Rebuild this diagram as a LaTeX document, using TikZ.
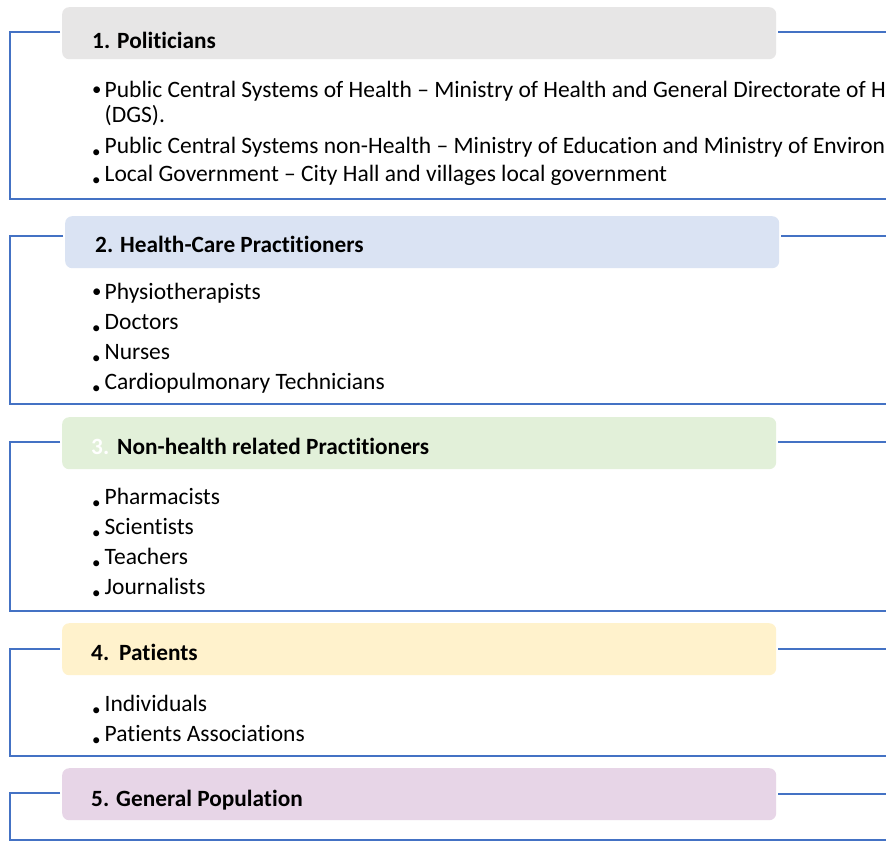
\documentclass[tikz,border=0pt]{standalone}
\usepackage{fontspec}
\usepackage{graphicx}
\setmainfont{Carlito}[Ligatures=NoCommon]
\definecolor{lineblue}{HTML}{4472C4}
\definecolor{cgray}{HTML}{E7E6E6}
\definecolor{cblue}{HTML}{DAE3F3}
\definecolor{cgreen}{HTML}{E2F0D9}
\definecolor{cyellow}{HTML}{FFF2CC}
\definecolor{cpurple}{HTML}{E7D5E7}
\newcommand{\bigbul}{\makebox[13.5pt][l]{\hspace{1pt}\raisebox{0.15ex}{\scalebox{0.8}{•}}}}
\newcommand{\smallbul}{\makebox[13.5pt][l]{\hspace{1pt}\raisebox{-0.4ex}{\scalebox{0.72}{•}}}}
\begin{document}
\begin{tikzpicture}[x=1pt,y=-1pt,
  conn/.style={draw=lineblue,line width=1.8pt},
  hbox/.style={rounded corners=7pt,minimum height=52pt,minimum width=714pt,inner sep=0pt,anchor=north west},
  htext/.style={anchor=base west,inner sep=0pt,font=\fontsize{23.3}{27}\selectfont\bfseries},
  item/.style={anchor=base west,inner sep=0pt,font=\fontsize{23.5}{27}\selectfont}]
\useasboundingbox[fill=white] (0,0) rectangle (886,841);

% ---------- Section 1 ----------
\node[hbox,fill=cgray] (h1) at (62,7) {};
\node[htext] (t1) at (92,48) {1. Politicians};
\node[item] (i11) at (91,97) {\bigbul Public Central Systems of Health – Ministry of Health and General Directorate of H};
\node[item] (i12) at (104.5,122) {(DGS).};
\node[item] (i13) at (91,153) {\smallbul Public Central Systems non-Health – Ministry of Education and Ministry of Environ};
\node[item] (i14) at (91,181) {\smallbul Local Government – City Hall and villages local government};
\coordinate (l1) at (60,32); \coordinate (c1) at (10,32); \coordinate (b1) at (10,199); \coordinate (e1) at (890,199);
\coordinate (r1) at (778,32); \coordinate (s1) at (890,32);
\draw[conn] (l1) -- (c1) -- (b1) -- (e1);
\draw[conn] (r1) -- (s1);

% ---------- Section 2 ----------
\node[hbox,fill=cblue] (h2) at (65,216) {};
\node[htext] (t2) at (95,252) {2. Health-Care Practitioners};
\node[item] (i21) at (91,299) {\bigbul Physiotherapists};
\node[item] (i22) at (91,329) {\smallbul Doctors};
\node[item] (i23) at (91,359) {\smallbul Nurses};
\node[item] (i24) at (91,389) {\smallbul Cardiopulmonary Technicians};
\coordinate (l2) at (63,236); \coordinate (c2) at (10,236); \coordinate (b2) at (10,404); \coordinate (e2) at (890,404);
\coordinate (r2) at (781,236); \coordinate (s2) at (890,236);
\draw[conn] (l2) -- (c2) -- (b2) -- (e2);
\draw[conn] (r2) -- (s2);

% ---------- Section 3 ----------
\node[hbox,fill=cgreen] (h3) at (62,417) {};
\node[htext] (t3) at (91,454) {\textcolor{white}{3.}\hspace{8pt}Non-health related Practitioners};
\node[item] (i31) at (91,504) {\smallbul Pharmacists};
\node[item] (i32) at (91,534) {\smallbul Scientists};
\node[item] (i33) at (91,564) {\smallbul Teachers};
\node[item] (i34) at (91,594) {\smallbul Journalists};
\coordinate (l3) at (60,442); \coordinate (c3) at (10,442); \coordinate (b3) at (10,611); \coordinate (e3) at (890,611);
\coordinate (r3) at (778,442); \coordinate (s3) at (890,442);
\draw[conn] (l3) -- (c3) -- (b3) -- (e3);
\draw[conn] (r3) -- (s3);

% ---------- Section 4 ----------
\node[hbox,fill=cyellow] (h4) at (62,623) {};
\node[htext] (t4) at (91,660) {4.\hspace{10pt}Patients};
\node[item] (i41) at (91,711) {\smallbul Individuals};
\node[item] (i42) at (91,741) {\smallbul Patients Associations};
\coordinate (l4) at (60,649); \coordinate (c4) at (10,649); \coordinate (b4) at (10,756); \coordinate (e4) at (890,756);
\coordinate (r4) at (778,649); \coordinate (s4) at (890,649);
\draw[conn] (l4) -- (c4) -- (b4) -- (e4);
\draw[conn] (r4) -- (s4);

% ---------- Section 5 ----------
\node[hbox,fill=cpurple] (h5) at (62,768) {};
\node[htext] (t5) at (91,806) {5. General Population};
\coordinate (l5) at (60,793); \coordinate (c5) at (10,793); \coordinate (b5) at (10,840); \coordinate (e5) at (890,840);
\coordinate (r5) at (778,794); \coordinate (s5) at (890,794);
\draw[conn] (l5) -- (c5) -- (b5) -- (e5);
\draw[conn] (r5) -- (s5);
\end{tikzpicture}
\end{document}
